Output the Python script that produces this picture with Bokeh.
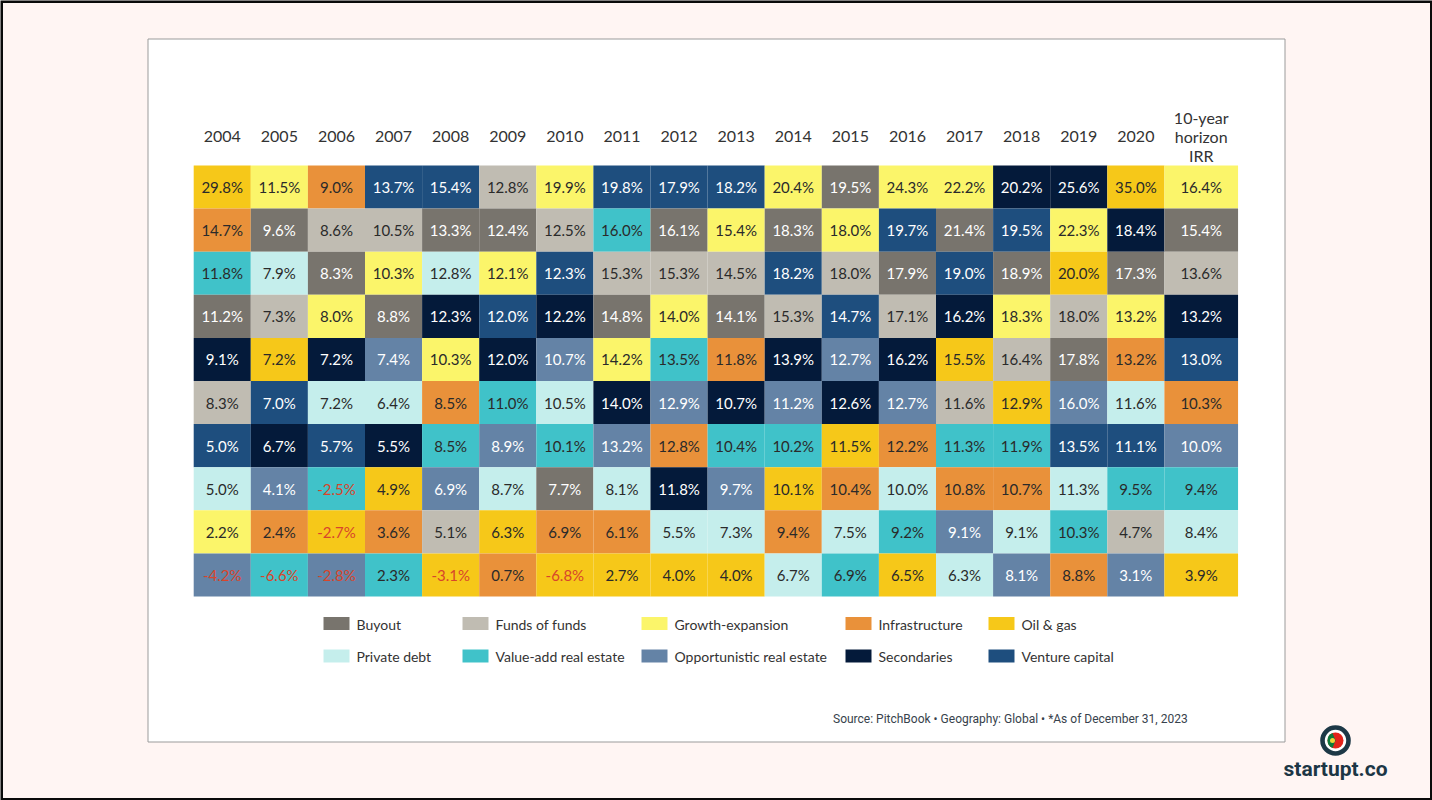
from bokeh.plotting import figure
from bokeh.models import Range1d, ColumnDataSource
from bokeh.core.properties import value
from bokeh.embed import file_html
from bokeh.resources import INLINE

# ---------------- data ----------------
columns = ["2004", "2005", "2006", "2007", "2008", "2009", "2010", "2011", "2012",
           "2013", "2014", "2015", "2016", "2017", "2018", "2019", "2020",
           "10-year\nhorizon\nIRR"]

categories = ["Buyout", "Funds of funds", "Growth-expansion", "Infrastructure", "Oil & gas",
              "Private debt", "Value-add real estate", "Opportunistic real estate",
              "Secondaries", "Venture capital"]
codes = ["BO", "FOF", "GE", "INF", "OG", "PD", "VA", "OR", "SEC", "VC"]
category_colors = ["#78746d", "#c0bcb2", "#fbf56a", "#e9913a", "#f6c819",
                   "#c5eeec", "#40c2c9", "#6483a6", "#041a3a", "#1e4e7e"]

# categories in rank order (top to bottom) for each column
rank_categories = [
    ["OG", "INF", "VA", "BO", "SEC", "FOF", "VC", "PD", "GE", "OR"],    # 2004
    ["GE", "BO", "PD", "FOF", "OG", "VC", "SEC", "OR", "INF", "VA"],    # 2005
    ["INF", "FOF", "BO", "GE", "SEC", "PD", "VC", "VA", "OG", "OR"],    # 2006
    ["VC", "FOF", "GE", "BO", "OR", "PD", "SEC", "OG", "INF", "VA"],    # 2007
    ["VC", "BO", "PD", "SEC", "GE", "INF", "VA", "OR", "FOF", "OG"],    # 2008
    ["FOF", "BO", "GE", "VC", "SEC", "VA", "OR", "PD", "OG", "INF"],    # 2009
    ["GE", "FOF", "VC", "SEC", "OR", "PD", "VA", "BO", "INF", "OG"],    # 2010
    ["VC", "VA", "FOF", "BO", "GE", "SEC", "OR", "PD", "INF", "OG"],    # 2011
    ["VC", "BO", "FOF", "GE", "VA", "OR", "INF", "SEC", "PD", "OG"],    # 2012
    ["VC", "GE", "FOF", "BO", "INF", "SEC", "VA", "OR", "PD", "OG"],    # 2013
    ["GE", "BO", "VC", "FOF", "SEC", "OR", "VA", "OG", "INF", "PD"],    # 2014
    ["BO", "GE", "FOF", "VC", "OR", "SEC", "OG", "INF", "PD", "VA"],    # 2015
    ["GE", "VC", "BO", "FOF", "SEC", "OR", "INF", "PD", "VA", "OG"],    # 2016
    ["GE", "BO", "VC", "SEC", "OG", "FOF", "VA", "INF", "OR", "PD"],    # 2017
    ["SEC", "VC", "BO", "GE", "FOF", "OG", "VA", "INF", "PD", "OR"],    # 2018
    ["SEC", "GE", "OG", "FOF", "BO", "OR", "VC", "PD", "VA", "INF"],    # 2019
    ["OG", "SEC", "BO", "GE", "INF", "PD", "VC", "VA", "FOF", "OR"],    # 2020
    ["GE", "BO", "FOF", "SEC", "VC", "INF", "OR", "VA", "PD", "OG"],    # 10-year IRR
]

# returns (%) in the same rank order
rank_values = [
    [29.8, 14.7, 11.8, 11.2, 9.1, 8.3, 5.0, 5.0, 2.2, -4.2],
    [11.5, 9.6, 7.9, 7.3, 7.2, 7.0, 6.7, 4.1, 2.4, -6.6],
    [9.0, 8.6, 8.3, 8.0, 7.2, 7.2, 5.7, -2.5, -2.7, -2.8],
    [13.7, 10.5, 10.3, 8.8, 7.4, 6.4, 5.5, 4.9, 3.6, 2.3],
    [15.4, 13.3, 12.8, 12.3, 10.3, 8.5, 8.5, 6.9, 5.1, -3.1],
    [12.8, 12.4, 12.1, 12.0, 12.0, 11.0, 8.9, 8.7, 6.3, 0.7],
    [19.9, 12.5, 12.3, 12.2, 10.7, 10.5, 10.1, 7.7, 6.9, -6.8],
    [19.8, 16.0, 15.3, 14.8, 14.2, 14.0, 13.2, 8.1, 6.1, 2.7],
    [17.9, 16.1, 15.3, 14.0, 13.5, 12.9, 12.8, 11.8, 5.5, 4.0],
    [18.2, 15.4, 14.5, 14.1, 11.8, 10.7, 10.4, 9.7, 7.3, 4.0],
    [20.4, 18.3, 18.2, 15.3, 13.9, 11.2, 10.2, 10.1, 9.4, 6.7],
    [19.5, 18.0, 18.0, 14.7, 12.7, 12.6, 11.5, 10.4, 7.5, 6.9],
    [24.3, 19.7, 17.9, 17.1, 16.2, 12.7, 12.2, 10.0, 9.2, 6.5],
    [22.2, 21.4, 19.0, 16.2, 15.5, 11.6, 11.3, 10.8, 9.1, 6.3],
    [20.2, 19.5, 18.9, 18.3, 16.4, 12.9, 11.9, 10.7, 9.1, 8.1],
    [25.6, 22.3, 20.0, 18.0, 17.8, 16.0, 13.5, 11.3, 10.3, 8.8],
    [35.0, 18.4, 17.3, 13.2, 13.2, 11.6, 11.1, 9.5, 4.7, 3.1],
    [16.4, 15.4, 13.6, 13.2, 13.0, 10.3, 10.0, 9.4, 8.4, 3.9],
]

source_text = "Source: PitchBook \u2022 Geography: Global \u2022 *As of December 31, 2023"
brand_text = "startupt.co"

# ---------------- layout (reference pixel geometry) ----------------
W, H = 1432, 800
OX, OY = 0, 0
GX0, CW = 193.2, 57.1    # grid left edge, column width (px)
GY0, RH = 165.0, 43.1    # grid top edge, row height (px)
IRR_W = 1.29             # width of the last column in column units

def ux(px):
    return (px - GX0) / CW

def uy(py):
    return (py - GY0) / RH

CELL_FONT = "Lato"
UI_FONT = "Roboto"

p = figure(width=W, height=H, output_backend="svg", toolbar_location=None,
           x_range=Range1d(ux(OX), ux(OX + W)),
           y_range=Range1d(uy(OY + H), uy(OY)),
           min_border=0, min_border_left=0, min_border_right=0,
           min_border_top=0, min_border_bottom=0)
p.axis.visible = False
p.grid.visible = False
p.outline_line_color = None
p.background_fill_color = "#fff5f3"
p.border_fill_color = "#fff5f3"

# outer dark frame of the picture
p.quad(left=[ux(0)], right=[ux(W)], top=[uy(0)], bottom=[uy(H)],
       fill_color=None, line_color="#0a0a0a", line_width=5)

# white panel
p.quad(left=[ux(147.5)], right=[ux(1284.5)], top=[uy(38.5)], bottom=[uy(741.5)],
       fill_color="white", line_color="#9b9b9b", line_width=1)

# ---------------- heat grid ----------------
color_of = dict(zip(codes, category_colors))
dark_cats = {"BO", "OR", "SEC", "VC"}

lefts, rights, tops, bottoms, fills, labels, xs, ys, tcolors = [], [], [], [], [], [], [], [], []
for ci, (cats, vals) in enumerate(zip(rank_categories, rank_values)):
    left = ci
    right = ci + 1 if ci < len(columns) - 1 else ci + IRR_W
    for ri, (c, v) in enumerate(zip(cats, vals)):
        lefts.append(left)
        rights.append(right)
        tops.append(ri)
        bottoms.append(ri + 1)
        fills.append(color_of[c])
        labels.append(f"{v:.1f}%")
        xs.append((left + right) / 2)
        ys.append(ri + 0.5)
        if v < 0:
            tcolors.append("#d8452b")
        elif c in dark_cats:
            tcolors.append("#ffffff")
        else:
            tcolors.append("#2a2a2a")

src = ColumnDataSource(dict(left=lefts, right=rights, top=tops, bottom=bottoms,
                            fill=fills, label=labels, x=xs, y=ys, tc=tcolors))
p.quad(left="left", right="right", top="top", bottom="bottom", fill_color="fill",
       line_color=None, source=src)
p.text(x="x", y="y", text="label", text_color="tc", source=src,
       text_font=value(CELL_FONT), text_font_size="15px",
       text_align="center", text_baseline="middle")

# column headers
hx = [(ci + 0.5) if ci < len(columns) - 1 else (ci + IRR_W / 2) for ci in range(len(columns))]
p.text(x=hx, y=[uy(136)] * len(columns), text=columns,
       text_font=value(CELL_FONT), text_font_size="16px", text_color="#333333",
       text_align="center", text_baseline="middle", text_line_height=1.0)

# ---------------- legend ----------------
leg_cols_px = [323, 462, 641, 845, 988]
leg_rows_px = [623, 655.5]
sw_w, sw_h = 26, 13
lg_l, lg_r, lg_t, lg_b, lg_c, lg_tx, lg_ty, lg_text = [], [], [], [], [], [], [], []
for k, (name, col) in enumerate(zip(categories, category_colors)):
    r, c = divmod(k, 5)
    x0 = leg_cols_px[c]
    yc = leg_rows_px[r]
    lg_l.append(ux(x0)); lg_r.append(ux(x0 + sw_w))
    lg_t.append(uy(yc - sw_h / 2)); lg_b.append(uy(yc + sw_h / 2))
    lg_c.append(col)
    lg_tx.append(ux(x0 + 33)); lg_ty.append(uy(yc + 0.5))
    lg_text.append(name)
p.quad(left=lg_l, right=lg_r, top=lg_t, bottom=lg_b, fill_color=lg_c, line_color=None)
p.text(x=lg_tx, y=lg_ty, text=lg_text, text_font=value(CELL_FONT), text_font_size="14px",
       text_color="#333333", text_align="left", text_baseline="middle")

# ---------------- source note ----------------
p.text(x=[ux(832.5)], y=[uy(718)], text=[source_text], text_font=value(UI_FONT),
       text_font_size="12px", text_color="#37424c", text_align="left", text_baseline="middle")

# ---------------- brand mark ----------------
bx, by = ux(1335), uy(740)
p.scatter(x=[bx], y=[by], marker="circle", size=26, fill_color="white",
          line_color="#1d3846", line_width=4.6)
p.scatter(x=[bx], y=[by], marker="circle", size=16, fill_color="#e2231a", line_color=None)
p.wedge(x=[bx], y=[by], radius=8, radius_units="screen", start_angle=112, end_angle=248,
        start_angle_units="deg", end_angle_units="deg",
        fill_color="#0b7a3b", line_color=None)
p.scatter(x=[ux(1332)], y=[uy(740)], marker="circle", size=5, fill_color="#f2d23a",
          line_color=None)
p.text(x=[ux(1335)], y=[uy(768)], text=[brand_text], text_font=value(UI_FONT),
       text_font_style="bold", text_font_size="21px", text_color="#1c3645",
       text_align="center", text_baseline="middle")

open("out.html", "w").write(file_html(p, INLINE))
